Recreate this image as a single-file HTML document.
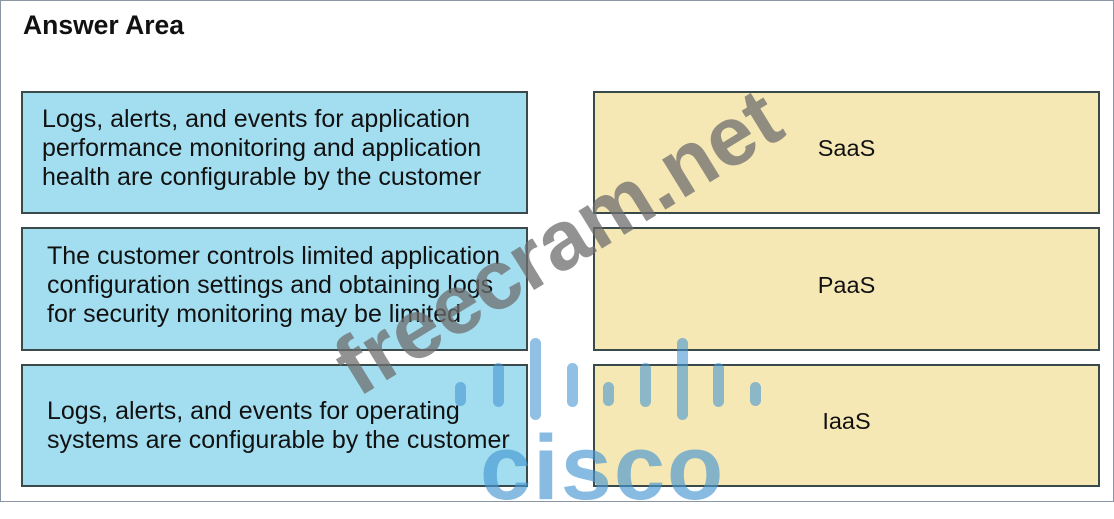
<!DOCTYPE html>
<html><head><meta charset="utf-8"><style>
body{margin:0;width:1114px;height:502px;background:#fff;position:relative;overflow:hidden;font-family:"Liberation Sans",sans-serif}
.frame{position:absolute;left:0;top:0;width:1112px;height:500px;border:1px solid #8a96a3}
.t{position:absolute;left:23px;top:10px;font-weight:bold;font-size:26.5px;color:#111}
.b{position:absolute;box-sizing:border-box;border:2px solid #3a4a4a;display:flex;align-items:center;font-size:25px;color:#111;line-height:29px;padding-bottom:8px}
.l{left:21px;width:507px;background:#a2def0;padding-left:19px}
.r{left:593px;width:507px;background:#f5e8b5;justify-content:center;font-size:23.5px}
.bar{position:absolute;width:11px;border-radius:6px;background:rgba(70,150,210,0.6)}
</style></head><body>
<div class="frame"></div>
<div class="t">Answer Area</div>
<div class="b l" style="top:91px;height:123px">Logs, alerts, and events for application<br>performance monitoring and application<br>health are configurable by the customer</div>
<div class="b l" style="top:227px;height:124px;padding-left:24px">The customer controls limited application<br>configuration settings and obtaining logs<br>for security monitoring may be limited</div>
<div class="b l" style="top:364px;height:123px;padding-left:24px;padding-bottom:0px">Logs, alerts, and events for operating<br>systems are configurable by the customer</div>
<div class="b r" style="top:91px;height:123px">SaaS</div>
<div class="b r" style="top:227px;height:124px">PaaS</div>
<div class="b r" style="top:364px;height:123px">IaaS</div>
<div style="position:absolute;left:558px;top:242px;transform:translate(-50%,-50%) rotate(-31.5deg);font-weight:bold;font-size:84px;color:rgba(110,110,110,0.75);white-space:nowrap">freecram.net</div>
<div class="bar" style="left:455px;top:382px;height:24px"></div>
<div class="bar" style="left:493px;top:363px;height:44px"></div>
<div class="bar" style="left:530px;top:338px;height:82px"></div>
<div class="bar" style="left:567px;top:363px;height:44px"></div>
<div class="bar" style="left:603px;top:382px;height:24px"></div>
<div class="bar" style="left:640px;top:363px;height:44px"></div>
<div class="bar" style="left:677px;top:338px;height:82px"></div>
<div class="bar" style="left:713px;top:363px;height:44px"></div>
<div class="bar" style="left:750px;top:382px;height:24px"></div>
<div style="position:absolute;left:480px;top:418px;font-weight:bold;font-size:92px;line-height:100px;letter-spacing:2px;color:rgba(70,150,210,0.65)">cisco</div>
</body></html>
